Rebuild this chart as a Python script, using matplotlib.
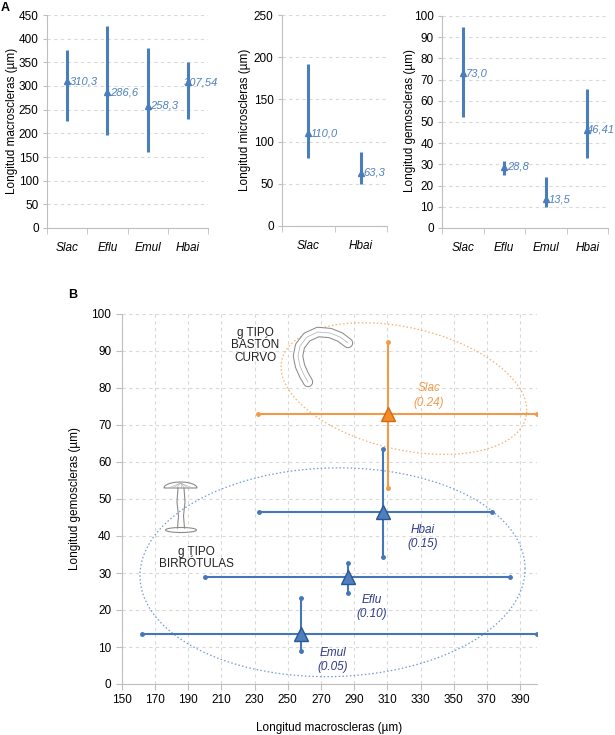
import numpy as np
import matplotlib.pyplot as plt

plt.rcParams['font.family'] = ['Liberation Sans', 'DejaVu Sans']
plt.rcParams['font.size'] = 8

# Panel A data
macro_names = ['Slac', 'Eflu', 'Emul', 'Hbai']
macro_mean = [310.3, 286.6, 258.3, 307.54]
macro_min = [226, 196, 160, 230]
macro_max = [376, 427, 380, 351]
macro_lbl = ['310,3', '286,6', '258,3', '307,54']

micro_names = ['Slac', 'Hbai']
micro_mean = [110.0, 63.3]
micro_min = [81, 50]
micro_max = [192, 88]
micro_lbl = ['110,0', '63,3']

gem_names = ['Slac', 'Eflu', 'Emul', 'Hbai']
gem_mean = [73.0, 28.8, 13.5, 46.41]
gem_min = [52.4, 25, 9.7, 33]
gem_max = [94.8, 31.6, 24.2, 65.5]
gem_lbl = ['73,0', '28,8', '13,5', '46,41']

# Panel B data
b_names = ['Slac', 'Hbai', 'Eflu', 'Emul']
b_x = [310.3, 307.54, 286.6, 258.3]
b_y = [73.0, 46.41, 28.8, 13.5]
b_xmin = [232, 233, 200, 162]
b_xmax = [400, 373, 384, 400]
b_ymin = [53, 34.4, 24.7, 8.9]
b_ymax = [92.5, 63.5, 32.6, 23.2]
b_ratio = ['(0.24)', '(0.15)', '(0.10)', '(0.05)']

W, H = 615, 735
fig = plt.figure(figsize=(W / 100, H / 100), dpi=100)


def box(l, t, r, b):
    return [l / W, 1 - b / H, (r - l) / W, (b - t) / H]


blueA = '#4a7ebb'
grid_c = '#d9d9d9'
spine_c = '#bfbfbf'


def panel_a(ax, names, mean, lo, hi, lbls, ymax, step, shift=None):
    n = len(names)
    xs = np.arange(n)
    for i in range(n):
        ax.plot([xs[i], xs[i]], [lo[i], hi[i]], color=blueA, lw=2.2, solid_capstyle='butt')
    ax.plot(xs, mean, ls='none', marker='^', ms=5, color=blueA)
    for i in range(n):
        dx = 2 if shift is None else shift[i]
        ax.annotate(lbls[i], (xs[i], mean[i]), xytext=(dx, 0), textcoords='offset points',
                    va='center', ha='left', style='italic', color='#4f81bd', fontsize=8,
                    annotation_clip=False)
    ax.set_xlim(-0.5, n - 0.5)
    ax.set_ylim(0, ymax)
    ax.set_yticks(np.arange(0, ymax + 1, step))
    ax.set_xticks(xs)
    ax.set_xticklabels(names, style='italic', fontsize=8.5)
    ax.set_xticks(np.arange(n + 1) - 0.5, minor=True)
    ax.tick_params(axis='x', which='major', length=0, pad=10)
    ax.tick_params(axis='x', which='minor', length=4, color=spine_c)
    ax.tick_params(axis='y', length=3, color=spine_c, labelsize=8.5, pad=3)
    ax.yaxis.grid(True, ls=(0, (3, 3)), color=grid_c, lw=0.8)
    ax.set_axisbelow(True)
    for s in ['top', 'right']:
        ax.spines[s].set_visible(False)
    for s in ['left', 'bottom']:
        ax.spines[s].set_color(spine_c)


ax1 = fig.add_axes(box(47, 15, 208, 228))
panel_a(ax1, macro_names, macro_mean, macro_min, macro_max, macro_lbl, 450, 50,
        shift=[2, 2, 2, -3])
ax2 = fig.add_axes(box(282, 15, 387, 226))
panel_a(ax2, micro_names, micro_mean, micro_min, micro_max, micro_lbl, 250, 50)
ax3 = fig.add_axes(box(442, 16, 608, 228))
panel_a(ax3, gem_names, gem_mean, gem_min, gem_max, gem_lbl, 100, 10,
        shift=[2, 2, 2, 0])

fig.text(12 / W, 1 - 121 / H, 'Longitud macroscleras (µm)', rotation=90, ha='center', va='center', fontsize=8.5)
fig.text(245 / W, 1 - 120 / H, 'Longitud microscleras (µm)', rotation=90, ha='center', va='center', fontsize=8.5)
fig.text(410 / W, 1 - 121 / H, 'Longitud gemoscleras (µm)', rotation=90, ha='center', va='center', fontsize=8.5)
fig.text(1 / W, 1 - 2 / H, 'A', weight='bold', ha='left', va='top', fontsize=9)

# Panel B
axB = fig.add_axes(box(121.7, 314, 536.7, 684))
axB.set_xlim(150, 400)
axB.set_ylim(0, 100)
axB.set_xticks(np.arange(150, 391, 20))
axB.set_yticks(np.arange(0, 101, 10))
axB.grid(True, ls=(0, (3, 3)), color=grid_c, lw=0.8)
axB.set_axisbelow(True)
for s in ['top', 'right']:
    axB.spines[s].set_visible(False)
for s in ['left', 'bottom']:
    axB.spines[s].set_color(spine_c)
axB.tick_params(length=4, color=spine_c, labelsize=8.5)

# ellipses (dotted groups)
t = np.linspace(0, 2 * np.pi, 300)
axB.plot(320 + 74 * np.cos(t), 79.85 + 16.8 * np.sin(t) - 5.85 * np.cos(t),
         ls=(0, (1.2, 1.8)), color='#f5b070', lw=0.9)
axB.plot(277 + 116 * np.cos(t), 30.2 + 28.2 * np.sin(t) + 0.95 * np.cos(t),
         ls=(0, (1.2, 1.8)), color='#6f9bd8', lw=0.9)

lab_xy = [(335, 78), (331.5, 39.7), (300.8, 20.8), (277, 6.5)]
for i in range(len(b_names)):
    if b_names[i] == 'Slac':
        lc, fc, ec, tc = '#f39a48', '#f58a2a', '#d06a10', '#f29c4c'
    else:
        lc, fc, ec, tc = '#4577b8', '#4f7fbe', '#2b5690', '#2e3a87'
    axB.plot([b_xmin[i], b_xmax[i]], [b_y[i], b_y[i]], color=lc, lw=1.5,
             marker='o', ms=2.5, markevery=[0, 1], zorder=3)
    axB.plot([b_x[i], b_x[i]], [b_ymin[i], b_ymax[i]], color=lc, lw=1.5,
             marker='o', ms=2.5, markevery=[0, 1], zorder=3)
    axB.plot([b_x[i]], [b_y[i]], marker='^', ms=10.5, mfc=fc, mec=ec, mew=1, ls='none', zorder=4)
    axB.text(lab_xy[i][0], lab_xy[i][1], b_names[i] + '\n' + b_ratio[i], color=tc,
             style='italic', ha='center', va='center', fontsize=8.5, linespacing=1.3)

axB.text(230.3, 91.6, 'g TIPO\nBASTÓN\nCURVO', ha='center', va='center', fontsize=8.5,
         linespacing=1.05, color='#222222')
axB.text(195, 34, 'g TIPO\nBIRRÓTULAS', ha='center', va='center', fontsize=8.5,
         linespacing=1.05, color='#222222')

fig.text(75 / W, 1 - 499 / H, 'Longitud gemoscleras (µm)', rotation=90, ha='center', va='center', fontsize=8.5)
fig.text(329 / W, 1 - 728 / H, 'Longitud macroscleras (µm)', ha='center', va='center', fontsize=8.5)
fig.text(73 / W, 1 - 295 / H, 'B', weight='bold', ha='center', va='center', fontsize=9)

# sketches (pixel overlay)
axO = fig.add_axes([0, 0, 1, 1], zorder=5)
axO.set_xlim(0, W)
axO.set_ylim(H, 0)
axO.axis('off')
axO.patch.set_alpha(0)

rod_x = [348, 340, 330, 318, 307, 300, 298, 300, 304, 308]
rod_y = [343, 337, 333, 332, 337, 346, 356, 366, 375, 382]
axO.plot(rod_x, rod_y, color='#8c8c8c', lw=7.5, solid_capstyle='round')
axO.plot(rod_x, rod_y, color='white', lw=6, solid_capstyle='round')
axO.plot(rod_x, rod_y, color='#b0b0b0', lw=0.5)

# birrotula
u = np.linspace(0, np.pi, 60)
axO.fill(180.5 + 16.5 * np.cos(u), 488 - 6 * np.sin(u), fc='white', ec='#8c8c8c', lw=0.8)
for k in np.linspace(-0.8, 0.8, 7):
    axO.plot([180.5, 180.5 + 15 * k], [483, 488], color='#b0b0b0', lw=0.4)
axO.plot([178, 177, 178.5, 177.5], [488, 502, 516, 528], color='#8c8c8c', lw=0.8)
axO.plot([184, 185, 183.5, 184.5], [488, 502, 516, 528], color='#8c8c8c', lw=0.8)
axO.fill(181 + 15.5 * np.cos(t), 530 + 2.5 * np.sin(t), fc='white', ec='#8c8c8c', lw=0.8)

fig.savefig('out.png', dpi=100)
